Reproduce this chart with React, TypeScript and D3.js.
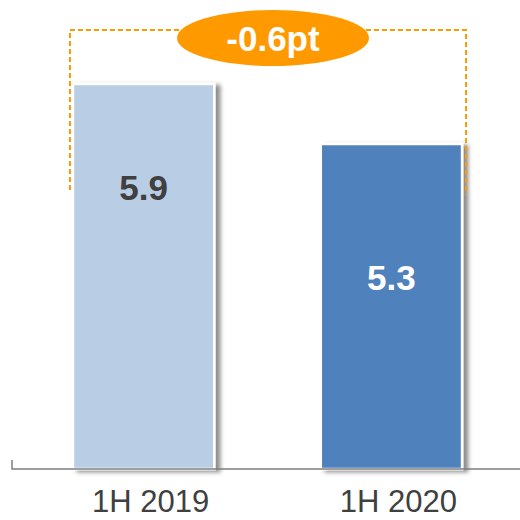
import { useEffect, useRef } from 'react'
import * as d3 from 'd3'

const categories = ['1H 2019', '1H 2020']
const values = [5.9, 5.3]
const valueLabels = ['5.9', '5.3']
const changeLabel = '-0.6pt'

const barColors = ['#B9CDE5', '#4F81BD']
const valueColors = ['#404040', '#FFFFFF']
const orange = '#FF9900'

export default function App() {
  const svgRef = useRef<SVGSVGElement>(null)

  useEffect(() => {
    if (!svgRef.current) return
    const svg = d3.select(svgRef.current)
    svg.selectAll('*').remove()

    const width = 520
    const height = 520
    const baseline = 469

    const x = d3.scaleBand<string>()
      .domain(categories)
      .range([11, 524])
      .paddingInner(0.43)
      .paddingOuter(0.25)

    const y = d3.scaleLinear()
      .domain([2.05, 6.2])
      .range([baseline, baseline - 415])

    const defs = svg.append('defs')
    const filter = defs.append('filter')
      .attr('id', 'shadow')
      .attr('x', '-10%').attr('y', '-10%')
      .attr('width', '130%').attr('height', '130%')
    filter.append('feDropShadow')
      .attr('dx', 5).attr('dy', 2)
      .attr('stdDeviation', 2)
      .attr('flood-color', '#000')
      .attr('flood-opacity', 0.45)

    const g = svg.append('g')

    // bars
    categories.forEach((c, i) => {
      g.append('rect')
        .attr('x', x(c)!)
        .attr('y', y(values[i]))
        .attr('width', x.bandwidth())
        .attr('height', baseline - y(values[i]))
        .attr('fill', barColors[i])
        .attr('stroke', '#fff')
        .attr('stroke-width', 2.5)
        .attr('filter', 'url(#shadow)')
    })

    // axis line + left tick
    g.append('path')
      .attr('d', `M12,${baseline - 9}V${baseline}H${width}`)
      .attr('fill', 'none')
      .attr('stroke', '#7f7f7f')
      .attr('stroke-width', 1.5)

    // value labels
    const valueY = [200, 290]
    categories.forEach((c, i) => {
      g.append('text')
        .attr('x', x(c)! + x.bandwidth() / 2)
        .attr('y', valueY[i])
        .attr('text-anchor', 'middle')
        .style('font-family', 'Liberation Sans, Arial, sans-serif')
        .style('font-weight', 'bold')
        .style('font-size', '35px')
        .style('fill', valueColors[i])
        .text(valueLabels[i])
    })

    // category labels
    categories.forEach(c => {
      g.append('text')
        .attr('x', x(c)! + x.bandwidth() / 2)
        .attr('dx', 7)
        .attr('y', 512)
        .attr('text-anchor', 'middle')
        .style('font-family', 'Liberation Sans, Arial, sans-serif')
        .style('font-size', '31px')
        .style('fill', '#404040')
        .text(c)
    })

    // dashed bracket
    const left = x(categories[0])! - 3
    const right = x(categories[1])! + x.bandwidth() + 4
    const top = 30
    g.append('path')
      .attr('d', `M${left},190V${top}H${right}V195`)
      .attr('fill', 'none')
      .attr('stroke', orange)
      .attr('stroke-width', 2)
      .attr('stroke-dasharray', '5,3')

    // change pill
    const cx = (left + right) / 2 + 5
    g.append('ellipse')
      .attr('cx', cx)
      .attr('cy', 38)
      .attr('rx', 96)
      .attr('ry', 28)
      .attr('fill', orange)
    g.append('text')
      .attr('x', cx)
      .attr('y', 51)
      .attr('text-anchor', 'middle')
      .style('font-family', 'Liberation Sans, Arial, sans-serif')
      .style('font-weight', 'bold')
      .style('font-size', '35px')
      .style('fill', '#fff')
      .text(changeLabel)

    svg.attr('width', width).attr('height', height)
  }, [])

  return (
    <svg
      ref={svgRef}
      width={520}
      height={520}
      style={{ position: 'absolute', left: 0, top: 0, background: '#fff' }}
    />
  )
}
